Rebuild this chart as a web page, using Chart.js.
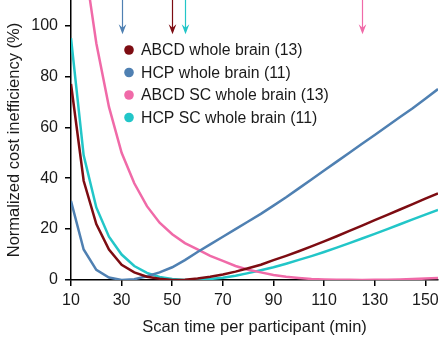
<!DOCTYPE html>
<html lang="en">

<head>
    <meta charset="UTF-8">
    <title>Scan time cost inefficiency</title>
    <script src="https://cdn.jsdelivr.net/npm/chart.js@4.4.0/dist/chart.umd.min.js"></script>
    <style>
        body { margin: 0; background: #fff; }
    </style>
</head>

<body>
    <canvas id="chart" width="448" height="343"></canvas>
    <script>
        // scan time per participant (min)
        const scanTimes = [10, 15, 20, 25, 30, 35, 40, 45, 50, 55, 60, 65, 70, 75, 80, 85, 90, 95, 100, 105, 110, 115, 120, 125, 130, 135, 140, 145, 150, 155];

        const abcdWhole = [77, 39, 22, 12, 6, 3, 1.3, 0.5, 0, 0.1, 0.6, 1.3, 2.2, 3.3, 4.6, 6, 7.8, 9.5, 11.3, 13.2, 15.2, 17.2, 19.3, 21.4, 23.5, 25.6, 27.7, 29.8, 32, 34];
        const hcpWhole = [31, 12, 4, 1, 0, 0.3, 1.5, 3, 5, 7.8, 11, 14, 17, 20, 23, 26, 29.2, 32.5, 36, 39.5, 43, 46.5, 50, 53.5, 57, 60.5, 64, 67.5, 71.2, 75];
        const abcdSC = [200, 127, 93, 68, 50, 38, 29, 22.5, 18, 14.5, 12, 9.5, 7.5, 5.5, 4, 3, 2, 1.3, 0.8, 0.4, 0.2, 0.1, 0.05, 0, 0.05, 0.1, 0.2, 0.35, 0.55, 0.8];
        const hcpSC = [95, 49, 28.5, 17, 10, 5.5, 2.8, 1.2, 0.4, 0, 0.1, 0.4, 0.9, 1.7, 2.7, 3.8, 5, 6.4, 7.9, 9.4, 11, 12.7, 14.5, 16.3, 18.1, 20, 21.9, 23.8, 25.7, 27.5];

        const seriesLabels = ['ABCD whole brain (13)', 'HCP whole brain (11)', 'ABCD SC whole brain (13)', 'HCP SC whole brain (11)'];
        const seriesColors = ['#7d0c12', '#4f80b2', '#f06aa8', '#22c6c8'];
        // optimal scan time marked with an arrow (min)
        const optimum = [50, 30, 125, 55];

        const yTicks = [0, 20, 40, 60, 80, 100];
        const xTicks = [10, 30, 50, 70, 90, 110, 130, 150];

        const FONT = "'Liberation Sans', Arial, sans-serif";

        const arrows = {
            id: 'arrows',
            afterDatasetsDraw(chart, args, opts) {
                const {ctx, scales: {x, y}, chartArea} = chart;
                ctx.save();
                optimum.forEach((t, i) => {
                    const px = Math.round(x.getPixelForValue(t)) + 0.5,
                        tip = y.getPixelForValue(opts.tip);
                    ctx.strokeStyle = seriesColors[i];
                    ctx.fillStyle = seriesColors[i];
                    ctx.lineWidth = 1.2;
                    ctx.beginPath();
                    ctx.moveTo(px, chartArea.top);
                    ctx.lineTo(px, tip - 3);
                    ctx.stroke();
                    ctx.beginPath();
                    ctx.moveTo(px, tip);
                    ctx.lineTo(px - 3.8, tip - 10);
                    ctx.lineTo(px, tip - 6.5);
                    ctx.lineTo(px + 3.8, tip - 10);
                    ctx.closePath();
                    ctx.fill();
                });
                ctx.restore();
            }
        };

        const legendBox = {
            id: 'legendBox',
            afterDraw(chart, args, opts) {
                const {ctx} = chart;
                ctx.save();
                ctx.font = `${opts.size}px ${FONT}`;
                ctx.textBaseline = 'middle';
                seriesLabels.forEach((label, i) => {
                    const cy = opts.top + i * opts.gap;
                    ctx.fillStyle = seriesColors[i];
                    ctx.beginPath();
                    ctx.arc(opts.left, cy, 4.8, 0, Math.PI * 2);
                    ctx.fill();
                    ctx.fillStyle = '#1a1a1a';
                    ctx.fillText(label, opts.left + 12, cy + 1);
                });
                ctx.restore();
            }
        };

        const ctx = document.getElementById('chart').getContext('2d');
        const datasets = [abcdWhole, hcpWhole, abcdSC, hcpSC].map((d, i) => ({
            label: seriesLabels[i],
            data: d,
            borderColor: seriesColors[i],
            backgroundColor: seriesColors[i],
            borderWidth: 2.5,
            pointRadius: 0,
            tension: 0,
            fill: false
        }));

        new Chart(ctx, {
            type: 'line',
            data: {
                labels: scanTimes,
                datasets
            },
            options: {
                responsive: false,
                animation: false,
                layout: { padding: { top: 0, right: 10, bottom: 0, left: 0 } },
                plugins: {
                    legend: { display: false },
                    tooltip: { enabled: false },
                    arrows: { tip: 96.5 },
                    legendBox: { left: 129, top: 50, gap: 22.5, size: 15.8 }
                },
                scales: {
                    x: {
                        type: 'linear',
                        min: 10,
                        max: 155,
                        afterBuildTicks(scale) { scale.ticks = xTicks.map(v => ({ value: v })); },
                        afterFit(scale) { scale.height = 63; scale.paddingRight = 0; scale.paddingLeft = 0; },
                        grid: { display: true, drawOnChartArea: false, drawTicks: true, tickLength: 6, color: '#000', lineWidth: 1.5 },
                        border: { display: true, color: '#000', width: 1.5 },
                        ticks: { color: '#1a1a1a', padding: 5, maxRotation: 0, font: { family: FONT, size: 16 } },
                        title: {
                            display: true,
                            text: 'Scan time per participant (min)',
                            color: '#1a1a1a',
                            font: { family: FONT, size: 16.5 },
                            padding: { top: 0, bottom: 6 }
                        }
                    },
                    y: {
                        min: 0,
                        max: 110,
                        afterBuildTicks(scale) { scale.ticks = yTicks.map(v => ({ value: v })); },
                        afterFit(scale) { scale.width = 71; scale.paddingTop = 0; scale.paddingBottom = 0; },
                        grid: { display: true, drawOnChartArea: false, drawTicks: true, tickLength: 6, color: '#000', lineWidth: 1.5 },
                        border: { display: true, color: '#000', width: 1.5 },
                        ticks: { color: '#1a1a1a', padding: 7, font: { family: FONT, size: 16 } },
                        title: {
                            display: true,
                            text: 'Normalized cost inefficiency (%)',
                            color: '#1a1a1a',
                            font: { family: FONT, size: 16.5 },
                            padding: { top: 5, bottom: 0 }
                        }
                    }
                }
            },
            plugins: [arrows, legendBox]
        });
    </script>
</body>

</html>
